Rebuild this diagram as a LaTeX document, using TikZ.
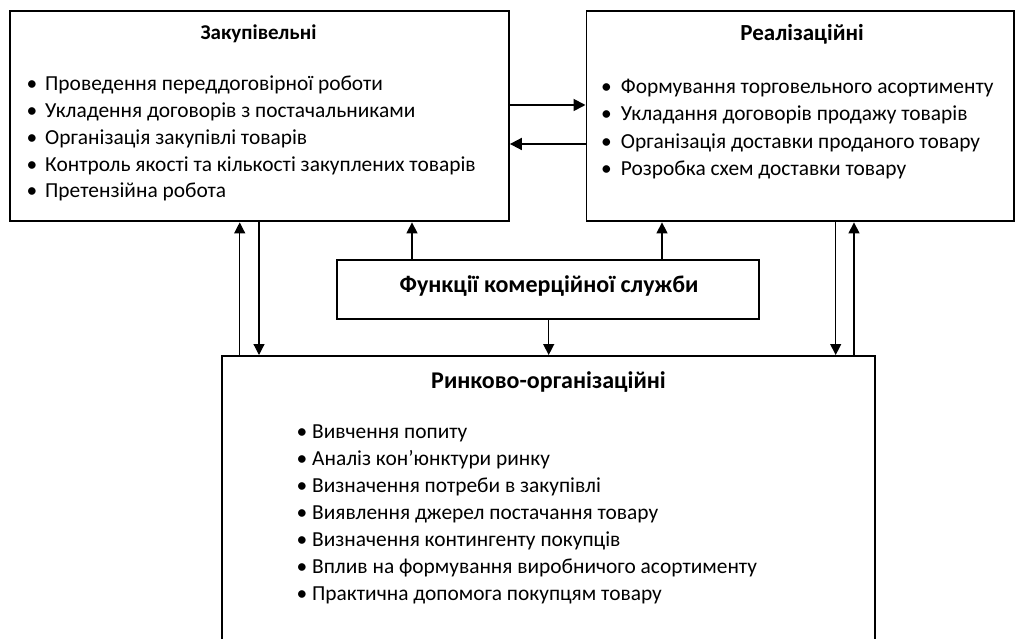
\documentclass[tikz,border=0pt]{standalone}
\usepackage{fontspec}
\setmainfont{Carlito}
\usetikzlibrary{arrows.meta}
\begin{document}
\begin{tikzpicture}[x=1pt,y=-1pt,
  box/.style={draw, line width=1.9pt, inner sep=0pt, anchor=north west},
  thinarr/.style={line width=1.2pt, -{Triangle[length=11pt,width=11pt]}},
  midarr/.style={line width=1.4pt, -{Triangle[length=11pt,width=11pt]}},
  horarr/.style={line width=1.8pt, -{Triangle[length=12pt,width=12pt]}},
  ttl/.style={font=\fontsize{21}{25}\selectfont\bfseries, inner sep=0pt, anchor=base},
  bigttl/.style={font=\fontsize{24}{28}\selectfont\bfseries, inner sep=0pt, anchor=base},
  item/.style={font=\fontsize{21.4}{25}\selectfont, inner sep=0pt, anchor=base west}
]
\useasboundingbox[fill=white] (0,0) rectangle (1015,639);

% boxes
\node[box, minimum width=499pt, minimum height=210.5pt] (L) at (9,10) {};
\node[box, minimum width=427.5pt, minimum height=210.5pt] (R) at (585.5,10) {};
\node[box, minimum width=422.5pt, minimum height=58.7pt] (C) at (335.7,259) {};
\node[box, minimum width=653.3pt, minimum height=300pt] (B) at (220.7,355) {};

% titles
\node[ttl] (Lt) at (258.5,40) {Закупівельні};
\node[ttl, font=\fontsize{23}{27}\selectfont\bfseries] (Rt) at (802,41) {Реалізаційні};
\node[bigttl] (Ct) at (549,292) {Функції комерційної служби};
\node[bigttl] (Bt) at (548.5,388) {Ринково-організаційні};

% left list
\node[item] (l1) at (45,91) {\llap{•\hspace{8pt}}Проведення переддоговірної роботи};
\node[item] (l2) at (45,117.75) {\llap{•\hspace{8pt}}Укладення договорів з постачальниками};
\node[item] (l3) at (45,144.5) {\llap{•\hspace{8pt}}Організація закупівлі товарів};
\node[item] (l4) at (45,171.25) {\llap{•\hspace{8pt}}Контроль якості та кількості закуплених товарів};
\node[item] (l5) at (45,198) {\llap{•\hspace{8pt}}Претензійна робота};

% right list
\node[item] (r1) at (620.7,93.3) {\llap{•\hspace{9pt}}Формування торговельного асортименту};
\node[item] (r2) at (620.7,120.7) {\llap{•\hspace{9pt}}Укладання договорів продажу товарів};
\node[item] (r3) at (620.7,148.1) {\llap{•\hspace{9pt}}Організація доставки проданого товару};
\node[item] (r4) at (620.7,175.5) {\llap{•\hspace{9pt}}Розробка схем доставки товару};

% bottom list
\node[item] (b1) at (312,438) {\llap{•\hspace{5pt}}Вивчення попиту};
\node[item] (b2) at (312,465) {\llap{•\hspace{5pt}}Аналіз кон’юнктури ринку};
\node[item] (b3) at (312,492) {\llap{•\hspace{5pt}}Визначення потреби в закупівлі};
\node[item] (b4) at (312,519) {\llap{•\hspace{5pt}}Виявлення джерел постачання товару};
\node[item] (b5) at (312,546) {\llap{•\hspace{5pt}}Визначення контингенту покупців};
\node[item] (b6) at (312,573) {\llap{•\hspace{5pt}}Вплив на формування виробничого асортименту};
\node[item] (b7) at (312,600) {\llap{•\hspace{5pt}}Практична допомога покупцям товару};

% helper coordinates
\coordinate (xa) at (239.7,0);
\coordinate (xb) at (259,0);
\coordinate (xc) at (412,0);
\coordinate (xd) at (662,0);
\coordinate (xe) at (548.7,0);
\coordinate (xf) at (835.7,0);
\coordinate (xg) at (854,0);
\coordinate (ya) at (0,105);
\coordinate (yb) at (0,144);

% connectors
\draw[thinarr] (B.north -| xa) -- (L.south -| xa);
\draw[thinarr] (L.south -| xb) -- (B.north -| xb);
\draw[midarr] (C.north -| xc) -- (L.south -| xc);
\draw[midarr] (C.north -| xd) -- (R.south -| xd);
\draw[midarr] (C.south -| xe) -- (B.north -| xe);
\draw[thinarr] (R.south -| xf) -- (B.north -| xf);
\draw[thinarr] (B.north -| xg) -- (R.south -| xg);
\draw[horarr] (L.east |- ya) -- (R.west |- ya);
\draw[horarr] (R.west |- yb) -- (L.east |- yb);
\end{tikzpicture}
\end{document}
